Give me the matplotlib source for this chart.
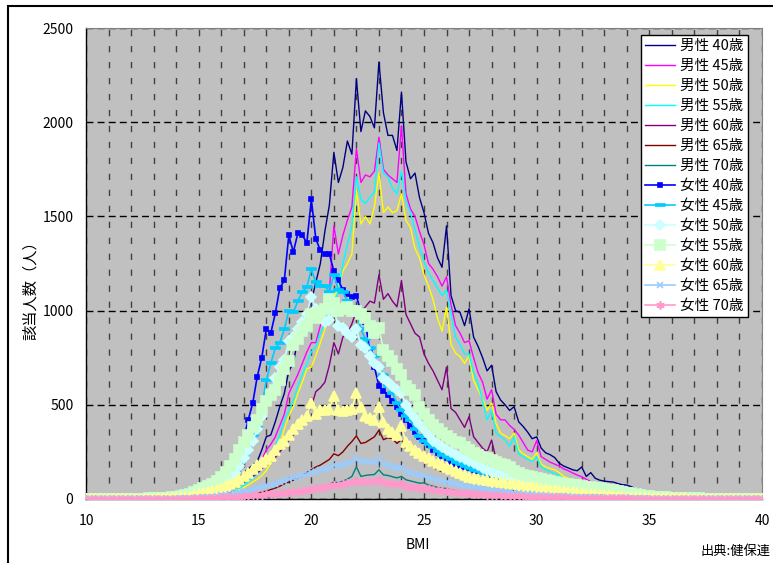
import numpy as np
import matplotlib.pyplot as plt
from matplotlib.patches import Rectangle
from matplotlib.ticker import MultipleLocator

plt.rcParams['font.family'] = ['Noto Sans CJK JP', 'DejaVu Sans']

# BMI 10.0 - 40.0 (0.2刻み)
bmi = np.round(np.arange(10.0, 40.01, 0.2), 1)

# 男性
m40 = [0,0,0,0,0,0,0,0,0,0, 0,0,0,0,0,0,0,0,0,1,
       2,2,3,4,6,10,14,20,28,38, 50,60,72,90,115,140,160,180,200,260,
       330,340,410,490,560,680,720,850,920,980, 1050,1150,1250,1420,1560,1840,1680,1760,1900,1830,
       2230,1950,2060,2030,1970,2320,2050,1930,1930,1850, 2160,1790,1700,1730,1600,1520,1410,1360,1280,1230,
       1450,1080,1000,990,920,1010,860,810,750,680, 710,570,525,500,470,490,410,385,355,320,
       330,270,245,235,220,190,175,165,155,150, 170,120,140,110,100,95,92,90,82,76,
       74,65,55,48,42,39,34,30,28,25, 38,22,15,10,8,6,4,3,2,2,
       1,1,1,0,0,0,0,0,0,0, 0]
m45 = [0,0,0,0,0,0,0,0,0,0, 0,0,0,0,0,0,0,0,0,0,
       1,1,2,3,4,6,8,12,16,22, 30,38,48,60,75,95,115,140,170,210,
       260,290,330,390,450,560,610,660,720,780, 830,830,920,990,1100,1450,1300,1400,1480,1550,
       1860,1680,1720,1710,1740,1920,1750,1720,1700,1680, 1980,1620,1540,1500,1420,1350,1250,1220,1180,1130,
       1180,1030,920,880,830,840,750,670,620,530, 580,450,420,420,390,370,340,300,260,250,
       310,225,210,195,185,175,160,150,138,127, 118,105,92,85,74,70,67,65,58,52,
       48,42,36,30,27,24,22,18,15,12, 10,8,6,5,4,3,2,2,1,1,
       0,0,0,0,0,0,0,0,0,0, 0]
m50 = [0,0,0,0,0,0,0,0,0,0, 0,0,0,0,0,0,0,0,0,0,
       1,1,2,2,3,4,6,8,11,15, 19,24,30,38,48,60,75,90,105,125,
       150,190,240,290,370,440,490,560,620,690, 700,760,830,900,980,1060,1130,1210,1250,1300,
       1640,1460,1500,1460,1550,1730,1520,1550,1520,1530, 1620,1480,1440,1330,1280,1190,1130,1060,960,890,
       1020,820,775,755,720,760,630,580,530,470, 510,400,350,335,320,350,260,240,225,210,
       245,185,170,162,155,140,120,110,100,92, 88,80,74,66,60,55,52,48,44,39,
       36,33,31,29,24,20,17,14,11,9, 7,6,5,4,3,2,2,1,1,1,
       0,0,0,0,0,0,0,0,0,0, 0]
m55 = [0,0,0,0,0,0,0,0,0,0, 0,0,0,0,0,0,0,0,0,0,
       1,1,2,2,3,5,7,10,13,17, 22,28,36,45,58,72,90,110,130,160,
       190,230,280,340,420,470,520,600,660,720, 780,810,880,930,960,1050,1100,1250,1350,1450,
       1710,1590,1570,1600,1630,1890,1730,1710,1650,1620, 1740,1580,1520,1430,1340,1260,1200,1160,1120,1080,
       1110,980,860,820,770,770,670,614,520,420, 470,350,330,313,280,330,240,225,210,200,
       225,170,155,145,135,125,105,95,88,83, 78,70,65,60,55,50,46,42,37,33,
       31,28,26,24,20,17,14,12,10,8, 7,6,5,4,3,2,2,1,1,1,
       0,0,0,0,0,0,0,0,0,0, 0]
m60 = [0,0,0,0,0,0,0,0,0,0, 0,0,0,0,0,0,0,0,0,0,
       0,1,1,1,2,3,4,6,9,12, 16,22,35,55,80,95,105,120,136,160,
       190,200,220,250,280,310,340,380,430,450, 490,570,590,620,710,830,770,860,880,930,
       1000,990,1020,1050,1040,1190,1060,1090,1050,1020, 1160,980,930,880,860,770,720,680,630,580,
       700,480,460,420,380,437,331,300,270,250, 313,210,185,165,150,140,125,110,95,88,
       101,80,74,68,62,56,52,49,46,43, 40,37,34,31,28,26,24,21,18,16,
       14,12,10,9,8,6,5,4,4,3, 2,2,2,1,1,1,1,0,0,0,
       0,0,0,0,0,0,0,0,0,0, 0]
m65 = [0,0,0,0,0,0,0,0,0,0, 0,0,0,0,0,0,0,0,0,0,
       0,0,1,1,1,2,2,3,3,4, 5,6,8,10,13,16,20,25,30,36,
       43,50,58,68,80,90,100,112,125,140, 155,170,180,195,210,240,230,250,280,305,
       335,295,300,315,330,365,315,325,320,295, 315,265,255,235,225,230,185,170,155,145,
       150,130,122,118,105,105,92,86,80,76, 78,66,60,56,50,46,42,39,35,32,
       30,26,23,21,19,17,15,14,12,11, 10,9,8,7,6,5,5,4,4,3,
       3,2,2,2,1,1,1,1,1,0, 0,0,0,0,0,0,0,0,0,0,
       0,0,0,0,0,0,0,0,0,0, 0]
m70 = [0,0,0,0,0,0,0,0,0,0, 0,0,0,0,0,0,0,0,0,0,
       0,0,0,0,0,1,1,1,1,2, 1,1,2,2,2,3,4,5,6,8,
       10,12,15,18,22,26,30,35,40,46, 52,58,64,70,76,90,86,95,105,120,
       170,120,125,128,130,155,128,125,118,112, 120,102,96,90,84,86,74,68,62,57,
       56,48,44,40,36,35,30,27,24,22, 21,18,16,14,12,11,10,9,8,7,
       6,5,5,4,4,3,3,2,2,2, 1,1,1,1,1,0,0,0,0,0,
       0,0,0,0,0,0,0,0,0,0, 0,0,0,0,0,0,0,0,0,0,
       0,0,0,0,0,0,0,0,0,0, 0]

# 女性
f40 = [0,0,0,0,0,0,0,0,0,0, 0,0,0,0,1,1,1,2,2,3,
       5,7,10,14,20,28,38,50,66,90, 118,145,180,220,270,320,420,510,650,750,
       900,880,985,1120,1160,1400,1310,1410,1400,1360, 1590,1380,1320,1300,1300,1210,1160,1110,1090,1070,
       1080,990,940,780,700,600,575,550,520,490, 450,420,385,355,330,310,285,260,245,228,
       215,195,185,175,168,162,156,150,142,136, 125,118,112,108,104,102,100,99,98,96,
       95,92,90,88,84,80,76,72,68,65, 62,58,56,52,48,44,40,36,32,28,
       25,22,19,16,14,12,10,9,8,7, 6,5,4,4,3,3,2,2,2,1,
       1,1,1,1,0,0,0,0,0,0, 0]
f45 = [0,0,0,0,0,0,0,0,0,0, 0,0,0,0,1,1,1,1,2,3,
       4,6,8,11,15,20,26,34,44,58, 75,95,120,150,190,240,290,340,390,490,
       630,720,800,830,900,1000,990,1050,1100,1125, 1220,1150,1130,1130,1100,1190,1110,1100,1050,1010,
       1000,900,850,800,760,700,660,600,560,510, 470,440,420,370,335,310,290,275,255,235,
       225,210,198,188,175,165,155,148,140,135, 125,115,110,104,98,92,88,84,80,76,
       72,68,65,62,59,56,53,50,47,44, 41,38,35,32,30,28,26,24,22,20,
       18,16,14,12,11,10,9,8,7,6, 5,4,4,3,3,2,2,2,1,1,
       1,1,0,0,0,0,0,0,0,0, 0]
f50 = [0,0,0,0,0,0,0,0,0,0, 0,0,0,0,1,1,1,2,2,3,
       4,6,8,11,15,20,26,34,44,56, 70,88,110,140,175,215,260,310,370,440,
       520,570,640,700,740,840,860,900,940,980, 1070,1010,990,940,950,1000,920,910,880,860,
       900,820,800,760,720,700,640,620,600,580, 560,500,460,430,400,370,340,310,290,275,
       260,248,235,225,210,200,190,180,165,155, 145,138,130,124,118,112,106,100,95,90,
       86,82,78,74,70,66,62,58,55,52, 49,46,43,40,37,34,31,28,25,22,
       20,18,16,14,12,10,9,8,7,6, 5,4,4,3,3,2,2,2,1,1,
       1,1,0,0,0,0,0,0,0,0, 0]
f55 = [0,0,0,0,0,0,0,0,1,1, 1,1,2,2,3,3,4,5,6,8,
       12,16,22,28,36,48,58,68,80,95, 118,145,175,210,260,300,340,380,420,480,
       520,550,580,630,690,730,820,850,890,920, 980,960,990,1010,1060,1040,1000,1010,1020,1000,
       1000,980,960,920,880,910,790,760,730,690, 660,600,580,550,490,450,420,395,370,350,
       335,320,305,295,275,260,245,235,225,215, 205,195,185,178,170,150,140,130,124,118,
       110,104,100,94,88,84,80,77,74,72, 68,65,62,60,58,55,50,46,42,38,
       34,30,26,22,18,15,13,11,9,8, 7,6,5,4,4,3,3,2,2,2,
       1,1,1,1,0,0,0,0,0,0, 0]
f60 = [0,0,0,0,0,0,0,0,0,1, 1,1,1,2,2,2,3,4,5,6,
       7,9,12,15,19,24,30,37,44,50, 60,70,80,92,105,120,140,160,180,195,
       210,230,260,290,310,340,370,400,420,440, 510,450,470,470,480,545,470,465,470,480,
       560,490,440,430,420,490,410,370,355,340, 385,300,280,260,245,230,215,200,192,180,
       170,158,150,140,128,118,112,106,102,100, 96,92,88,85,82,78,74,70,66,62,
       58,55,52,49,46,43,40,37,35,33, 31,29,27,25,23,21,19,17,15,13,
       12,11,10,9,8,7,6,5,5,4, 4,3,3,3,2,2,2,1,1,1,
       1,1,0,0,0,0,0,0,0,0, 0]
f65 = [0,0,0,0,0,0,0,0,0,0, 0,0,0,0,1,1,1,1,1,2,
       2,3,4,5,6,7,9,11,13,16, 19,22,26,30,35,40,45,50,56,62,
       68,75,82,90,98,105,112,118,125,132, 145,145,152,160,165,180,175,182,190,195,
       215,200,198,195,195,210,185,180,172,165, 170,150,140,132,125,122,112,106,100,95,
       92,86,80,75,70,66,62,58,54,50, 47,44,41,38,35,33,31,29,27,25,
       23,21,20,18,17,16,15,14,13,12, 11,10,9,8,8,7,6,6,5,5,
       4,4,3,3,3,2,2,2,2,1, 1,1,1,1,1,0,0,0,0,0,
       0,0,0,0,0,0,0,0,0,0, 0]
f70 = [0,0,0,0,0,0,0,0,0,0, 0,0,0,0,0,0,1,1,1,1,
       1,1,2,2,3,3,4,5,6,7, 8,9,10,12,13,15,17,19,21,23,
       25,27,29,31,33,36,39,42,45,48, 54,56,60,64,68,76,76,80,84,88,
       98,92,93,94,93,100,90,86,82,78, 80,70,66,62,58,56,52,49,46,43,
       42,38,36,34,32,30,28,26,24,22, 21,20,19,18,17,16,15,14,13,12,
       11,10,10,9,9,8,8,7,7,6, 6,5,5,5,4,4,4,3,3,3,
       3,2,2,2,2,2,1,1,1,1, 1,1,1,0,0,0,0,0,0,0,
       0,0,0,0,0,0,0,0,0,0, 0]

labels = ['男性 40歳', '男性 45歳', '男性 50歳', '男性 55歳', '男性 60歳', '男性 65歳', '男性 70歳',
          '女性 40歳', '女性 45歳', '女性 50歳', '女性 55歳', '女性 60歳', '女性 65歳', '女性 70歳']
series = [m40, m45, m50, m55, m60, m65, m70, f40, f45, f50, f55, f60, f65, f70]
colors = ['#000080', '#FF00FF', '#FFFF00', '#00FFFF', '#800080', '#800000', '#008080',
          '#0000FF', '#00CCFF', '#CCFFFF', '#CCFFCC', '#FFFF99', '#99CCFF', '#FF99CC']
dash = [(-1, -0.3), (1, -0.3), (1, 0.3), (-1, 0.3)]
markers = [None] * 7 + ['s', dash, 'D', 's', '^', 'x', (6, 2, 0)]
msizes = [0] * 7 + [3, 6.5, 5, 6.5, 6.5, 5, 6]

fig = plt.figure(figsize=(7.73, 5.63), dpi=100)
ax = fig.add_axes([86 / 773, 1 - 499 / 563, 676 / 773, 471 / 563])
ax.set_facecolor('#C0C0C0')

for y, lab, c, mk, ms in zip(series, labels, colors, markers, msizes):
    if mk is None:
        ax.plot(bmi, y, color=c, lw=1.0, label=lab, zorder=3)
    else:
        ax.plot(bmi, y, color=c, lw=1.2, marker=mk, ms=ms, mfc=c, mec=c, mew=1.2,
                label=lab, zorder=3)

ax.set_xlim(10, 40)
ax.set_ylim(0, 2500)
ax.set_xticks(range(10, 41, 5))
ax.set_yticks(range(0, 2501, 500))
ax.xaxis.set_minor_locator(MultipleLocator(1))
ax.tick_params(axis='both', which='both', length=0, labelsize=10)
ax.tick_params(axis='x', pad=11)
ax.tick_params(axis='y', pad=9)
ax.grid(True, axis='x', which='both', color='#404040', lw=1.0, dashes=(4.5, 7))
ax.grid(True, axis='y', which='major', color='black', lw=1.0, dashes=(5, 3))
ax.set_axisbelow(True)
for s in ['left', 'bottom']:
    ax.spines[s].set_color('black')
    ax.spines[s].set_linewidth(1.0)
for s in ['top', 'right']:
    ax.spines[s].set_color('#808080')
    ax.spines[s].set_linewidth(0.8)

leg = ax.legend(loc='upper left', bbox_to_anchor=(641 / 773, 1 - 35 / 563),
                bbox_transform=fig.transFigure, fontsize=10.5, frameon=True, fancybox=False,
                framealpha=1, edgecolor='black', borderpad=0.3, labelspacing=0.41,
                handlelength=2.0, handletextpad=0.4, borderaxespad=0)
leg.get_frame().set_linewidth(1.0)
leg.set_zorder(10)

fig.text(30 / 773, 1 - 287 / 563, '該当人数（人）', rotation=90, ha='center', va='center', fontsize=11)
fig.text(418 / 773, 1 - 545 / 563, 'BMI', ha='center', va='center', fontsize=10)
fig.text(770 / 773, 1 - 551 / 563, '出典:健保連', ha='right', va='center', fontsize=9.5)

fig.patches.append(Rectangle((8 / 773, -0.1), 1.2, 1.1 - 6 / 563, transform=fig.transFigure,
                             fill=False, edgecolor='black', lw=1.5))

fig.savefig('out.png', dpi=100)
